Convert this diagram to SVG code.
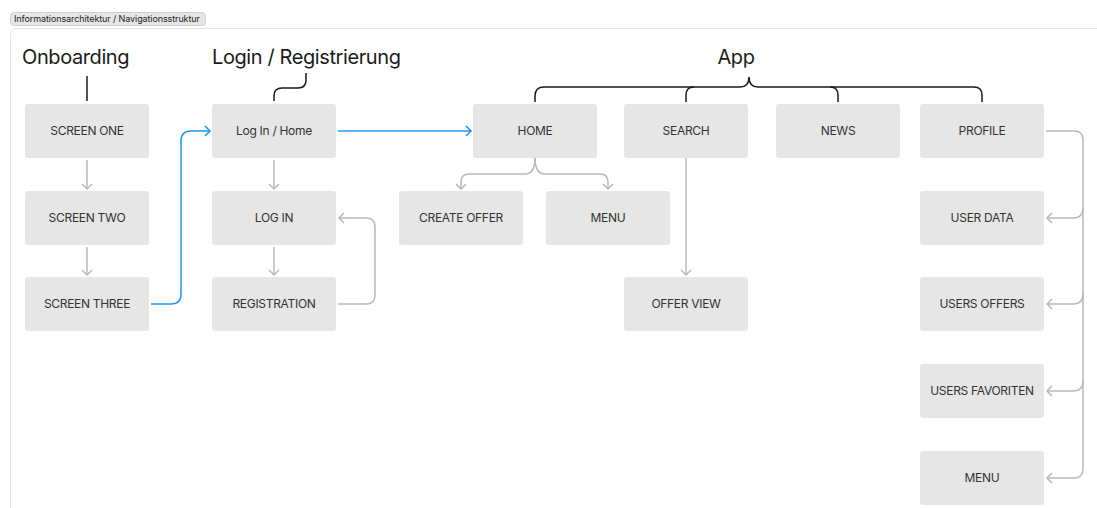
<svg xmlns="http://www.w3.org/2000/svg" width="1097" height="508" viewBox="0 0 1097 508">
<style>
.box{fill:#e6e6e6;}
.bt{font-family:Inter,"Liberation Sans",sans-serif;font-size:12px;letter-spacing:-0.3px;fill:#333;text-anchor:middle;}
.h{font-family:Inter,"Liberation Sans",sans-serif;font-size:20px;letter-spacing:-0.4px;fill:#1a1a1a;}
.g{fill:none;stroke:#b8b8b8;stroke-width:1.5;}
.b{fill:none;stroke:#1e96f0;stroke-width:1.5;}
.k{fill:none;stroke:#1a1a1a;stroke-width:1.5;}
</style>
<defs>
<marker id="ag" markerUnits="userSpaceOnUse" markerWidth="12" markerHeight="12" refX="10" refY="6" orient="auto"><path d="M5,1 L10,6 L5,11" fill="none" stroke="#b8b8b8" stroke-width="1.5"/></marker>
<marker id="ab" markerUnits="userSpaceOnUse" markerWidth="12" markerHeight="12" refX="10" refY="6" orient="auto"><path d="M5,1 L10,6 L5,11" fill="none" stroke="#1e96f0" stroke-width="1.5"/></marker>
</defs>
<rect x="0" y="0" width="1097" height="508" fill="#fff"/>
<g id="frame">
<rect x="10.5" y="28.5" width="1100" height="500" rx="6" fill="#fff" stroke="#e3e3e3"/>
<rect x="10.5" y="12.5" width="195" height="13" rx="4" fill="#e6e6e6" stroke="#cfcfcf"/>
<text x="14" y="22" font-family="Inter,'Liberation Sans',sans-serif" font-size="9" letter-spacing="-0.1" fill="#222">Informationsarchitektur / Navigationsstruktur</text>
</g>
<g id="headings">
<text class="h" x="22" y="64">Onboarding</text>
<text class="h" x="212" y="64">Login / Registrierung</text>
<text class="h" x="736" y="64" text-anchor="middle">App</text>
</g>
<g id="connectors">
<path class="k" d="M87,76 L87,101"/>
<path class="k" d="M274,101 L274,96 Q274,88 282,88 L298,88 Q306,88 306,80 L306,73"/>
<path class="k" d="M535,102 L535,96 Q535,87 544,87 L740,87 Q749,87 749,77 Q749,87 758,87 L974,87 Q982,87 982,95 L982,102"/>
<path class="k" d="M686,102 L686,95 Q686,87 694,87"/>
<path class="k" d="M830,87 Q838,87 838,95 L838,102"/>
<path class="g" d="M87,160 L87,189" marker-end="url(#ag)"/>
<path class="g" d="M87,247 L87,275" marker-end="url(#ag)"/>
<path class="g" d="M274,160 L274,189" marker-end="url(#ag)"/>
<path class="g" d="M274,247 L274,275" marker-end="url(#ag)"/>
<path class="g" d="M338,304 L366,304 Q375,304 375,295 L375,227 Q375,218 366,218 L339,218" marker-end="url(#ag)"/>
<path class="b" d="M151,304 L171,304 Q181,304 181,294 L181,141 Q181,131 191,131 L210,131" marker-end="url(#ab)"/>
<path class="b" d="M338,131 L471,131" marker-end="url(#ab)"/>
<path class="g" d="M535,158 Q535,174 545,174 L600,174 Q608,174 608,182 L608,189" marker-end="url(#ag)"/>
<path class="g" d="M535,158 Q535,174 525,174 L469,174 Q461,174 461,182 L461,189" marker-end="url(#ag)"/>
<path class="g" d="M686,158 L686,275" marker-end="url(#ag)"/>
<path class="g" d="M1046,131 L1074,131 Q1083,131 1083,140 L1083,469 Q1083,478 1074,478 L1047,478" marker-end="url(#ag)"/>
<path class="g" d="M1083,208 Q1083,218 1073,218 L1047,218" marker-end="url(#ag)"/>
<path class="g" d="M1083,294 Q1083,304 1073,304 L1047,304" marker-end="url(#ag)"/>
<path class="g" d="M1083,381 Q1083,391 1073,391 L1047,391" marker-end="url(#ag)"/>
</g>
<g id="n-screen-one"><rect class="box" x="25" y="104" width="124" height="54" rx="3"/><text class="bt" x="87" y="135">SCREEN ONE</text></g>
<g id="n-screen-two"><rect class="box" x="25" y="191" width="124" height="54" rx="3"/><text class="bt" x="87" y="222">SCREEN TWO</text></g>
<g id="n-screen-three"><rect class="box" x="25" y="277" width="124" height="54" rx="3"/><text class="bt" x="87" y="308">SCREEN THREE</text></g>
<g id="n-login-home"><rect class="box" x="212" y="104" width="124" height="54" rx="3"/><text class="bt" x="274" y="135">Log In / Home</text></g>
<g id="n-login"><rect class="box" x="212" y="191" width="124" height="54" rx="3"/><text class="bt" x="274" y="222">LOG IN</text></g>
<g id="n-registration"><rect class="box" x="212" y="277" width="124" height="54" rx="3"/><text class="bt" x="274" y="308">REGISTRATION</text></g>
<g id="n-home"><rect class="box" x="473" y="104" width="124" height="54" rx="3"/><text class="bt" x="535" y="135">HOME</text></g>
<g id="n-search"><rect class="box" x="624" y="104" width="124" height="54" rx="3"/><text class="bt" x="686" y="135">SEARCH</text></g>
<g id="n-news"><rect class="box" x="776" y="104" width="124" height="54" rx="3"/><text class="bt" x="838" y="135">NEWS</text></g>
<g id="n-profile"><rect class="box" x="920" y="104" width="124" height="54" rx="3"/><text class="bt" x="982" y="135">PROFILE</text></g>
<g id="n-create-offer"><rect class="box" x="399" y="191" width="124" height="54" rx="3"/><text class="bt" x="461" y="222">CREATE OFFER</text></g>
<g id="n-menu-home"><rect class="box" x="546" y="191" width="124" height="54" rx="3"/><text class="bt" x="608" y="222">MENU</text></g>
<g id="n-offer-view"><rect class="box" x="624" y="277" width="124" height="54" rx="3"/><text class="bt" x="686" y="308">OFFER VIEW</text></g>
<g id="n-user-data"><rect class="box" x="920" y="191" width="124" height="54" rx="3"/><text class="bt" x="982" y="222">USER DATA</text></g>
<g id="n-users-offers"><rect class="box" x="920" y="277" width="124" height="54" rx="3"/><text class="bt" x="982" y="308">USERS OFFERS</text></g>
<g id="n-users-favoriten"><rect class="box" x="920" y="364" width="124" height="54" rx="3"/><text class="bt" x="982" y="395">USERS FAVORITEN</text></g>
<g id="n-menu-profile"><rect class="box" x="920" y="451" width="124" height="54" rx="3"/><text class="bt" x="982" y="482">MENU</text></g>
</svg>
